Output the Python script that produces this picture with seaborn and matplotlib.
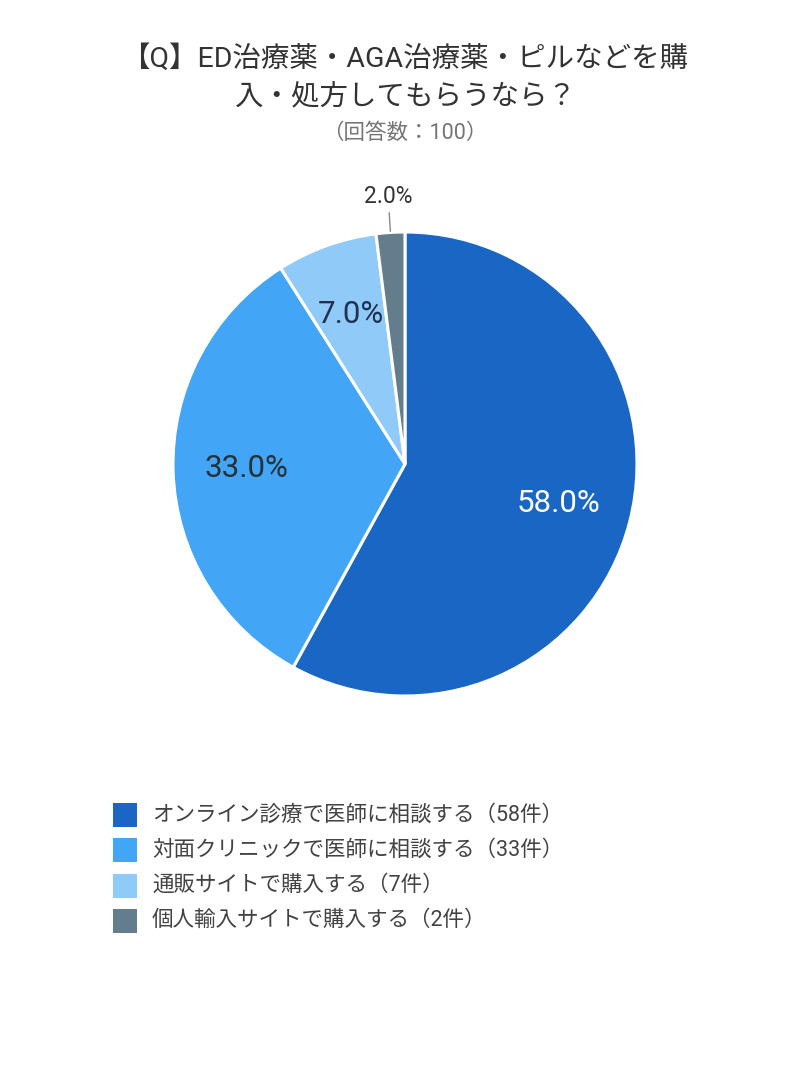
import numpy as np
import matplotlib
matplotlib.use('Agg')
import matplotlib.pyplot as plt
import seaborn as sns
from matplotlib.patches import Rectangle

categories = [
    "オンライン診療で医師に相談する",
    "対面クリニックで医師に相談する",
    "通販サイトで購入する",
    "個人輸入サイトで購入する",
]
counts = [58, 33, 7, 2]
colors = ["#1a66c5", "#42a5f5", "#90caf9", "#637d8c"]
label_colors = ["#ffffff", "#263238", "#1f3350", "#333333"]

title = "【Q】ED治療薬・AGA治療薬・ピルなどを購\n入・処方してもらうなら？"
subtitle = "（回答数：100）"

sns.set_theme(style="white")
plt.rcParams['font.family'] = ['Roboto', 'Noto Sans CJK JP', 'DejaVu Sans']

W, H = 810, 1080
fig = plt.figure(figsize=(W / 100, H / 100), dpi=100)
fig.patch.set_facecolor("white")

cx, cy, r = 405, 464, 232
ax = fig.add_axes([(cx - r) / W, (H - cy - r) / H, 2 * r / W, 2 * r / H])

palette = sns.color_palette(colors)
total = sum(counts)
wedges, texts, autotexts = ax.pie(
    counts, colors=palette, startangle=90, counterclock=False,
    radius=1, autopct=lambda p: f"{p:.1f}%", pctdistance=0.685,
    wedgeprops={"edgecolor": "white", "linewidth": 2.2},
    textprops={"fontsize": 22.5},
)
ax.set_xlim(-1, 1)
ax.set_ylim(-1, 1)
ax.set_aspect("equal")
ax.axis("off")
for w in wedges:
    w.set_clip_on(False)

for i, (w, t) in enumerate(zip(wedges, autotexts)):
    t.set_color(label_colors[i])
    share = counts[i] / total
    if share < 0.05:
        ang = np.deg2rad((w.theta1 + w.theta2) / 2)
        x0, y0 = np.cos(ang), np.sin(ang)
        ax.plot([x0 * 1.005, x0 * 1.085], [y0 * 1.005, y0 * 1.085],
                color="#888888", lw=1, clip_on=False)
        t.set_position((x0 * 1.16, y0 * 1.155))
        t.set_fontsize(16.5)
        t.set_clip_on(False)

fig.text(0.5, 1 - 78 / H, title, ha="center", va="center",
         fontsize=20.5, color="#333333", linespacing=1.5)
fig.text(0.5, 1 - 133 / H, subtitle, ha="center", va="center",
         fontsize=15.5, color="#757575")

# legend
row0, step = 815, 35.3
for i, (cat, n, col) in enumerate(zip(categories, counts, colors)):
    yc = row0 + i * step
    fig.patches.append(Rectangle((113 / W, 1 - (yc + 12) / H), 24 / W, 24 / H,
                                 transform=fig.transFigure, facecolor=col,
                                 edgecolor="none"))
    fig.text(152 / W, 1 - yc / H, f"{cat}（{n}件）", ha="left", va="center",
             fontsize=15.5, color="#424242")

fig.savefig("out.png", dpi=100)
plt.close('all')
